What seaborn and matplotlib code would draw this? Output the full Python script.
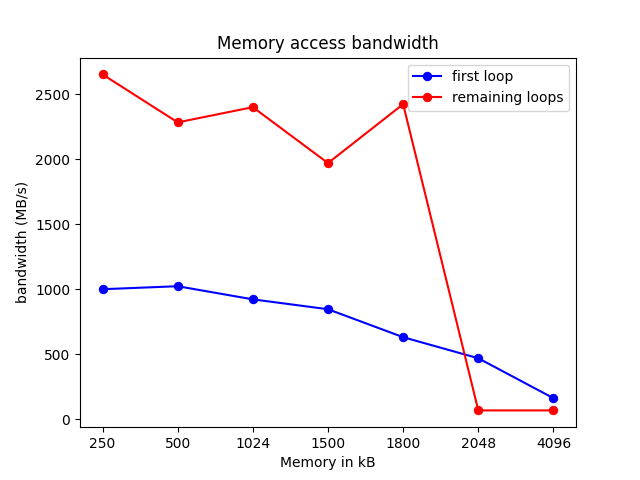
import matplotlib
matplotlib.use("Agg")
import matplotlib.pyplot as plt
import seaborn as sns

# data
memory_kb = ["250", "500", "1024", "1500", "1800", "2048", "4096"]
first_loop = [1000, 1023, 922, 846, 631, 469, 162]
remaining_loops = [2652, 2283, 2400, 1970, 2423, 68, 68]

fig, ax = plt.subplots(figsize=(6.4, 4.8), dpi=100)

sns.lineplot(x=memory_kb, y=first_loop, ax=ax, color="blue", marker="o",
             markersize=6, markeredgecolor="blue", label="first loop", sort=False)
sns.lineplot(x=memory_kb, y=remaining_loops, ax=ax, color="red", marker="o",
             markersize=6, markeredgecolor="red", label="remaining loops", sort=False)

ax.set_title("Memory access bandwidth")
ax.set_xlabel("Memory in kB")
ax.set_ylabel("bandwidth (MB/s)")
ax.legend(loc="upper right")

plt.savefig("out.png")
